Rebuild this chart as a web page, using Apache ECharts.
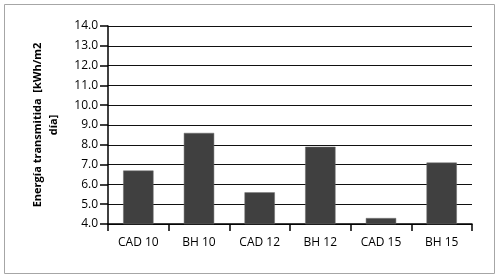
<!DOCTYPE html>
<html><head><meta charset="utf-8">
<script src="https://cdn.jsdelivr.net/npm/echarts@6/dist/echarts.min.js"></script>
<style>html,body{margin:0;padding:0;background:#fff}#c{width:499px;height:279px}</style>
</head><body><div id="c"></div>
<script>
const categories = ['CAD 10', 'BH 10', 'CAD 12', 'BH 12', 'CAD 15', 'BH 15'];
const values = [6.7, 8.6, 5.6, 7.9, 4.3, 7.1];
const yMin = 4, yMax = 14, yStep = 1;
const yName = 'Energía transmitida  [kWh/m2\ndía]';

const chart = echarts.init(document.getElementById('c'), null, {renderer: 'canvas'});
chart.setOption({
  animation: false,
  backgroundColor: '#fff',
  textStyle: {fontFamily: 'Open Sans'},
  graphic: [{
    type: 'rect', shape: {x: 4.5, y: 4.5, width: 490, height: 269},
    style: {fill: 'none', stroke: '#a6a6a6', lineWidth: 1}, silent: true
  }],
  grid: {left: 108, right: 27, top: 26, bottom: 55},
  xAxis: {
    type: 'category', data: categories,
    axisLine: {lineStyle: {color: '#000', width: 1.5}},
    axisTick: {show: true, length: 7, interval: 0, alignWithLabel: false, lineStyle: {color: '#000', width: 1.5}},
    axisLabel: {color: '#000', fontSize: 12, margin: 13, fontFamily: 'Open Sans'},
    splitLine: {show: false}
  },
  yAxis: {
    type: 'value', min: yMin, max: yMax, interval: yStep,
    name: yName, nameLocation: 'middle', nameRotate: 90, nameGap: 46,
    nameTextStyle: {fontWeight: 'bold', fontSize: 11, color: '#000', lineHeight: 16, fontFamily: 'Open Sans'},
    axisLine: {show: true, lineStyle: {color: '#000', width: 1.5}},
    axisTick: {show: true, length: 8, lineStyle: {color: '#000', width: 1.5}},
    axisLabel: {color: '#000', fontSize: 12, margin: 10, formatter: v => v.toFixed(1), fontFamily: 'Open Sans'},
    splitLine: {show: true, lineStyle: {color: '#111', width: 1.2}}
  },
  series: [{
    type: 'bar', data: values, barWidth: '50%',
    itemStyle: {color: '#404040', borderColor: '#6a6a6a', borderWidth: 0.5}
  }]
});
</script></body></html>
